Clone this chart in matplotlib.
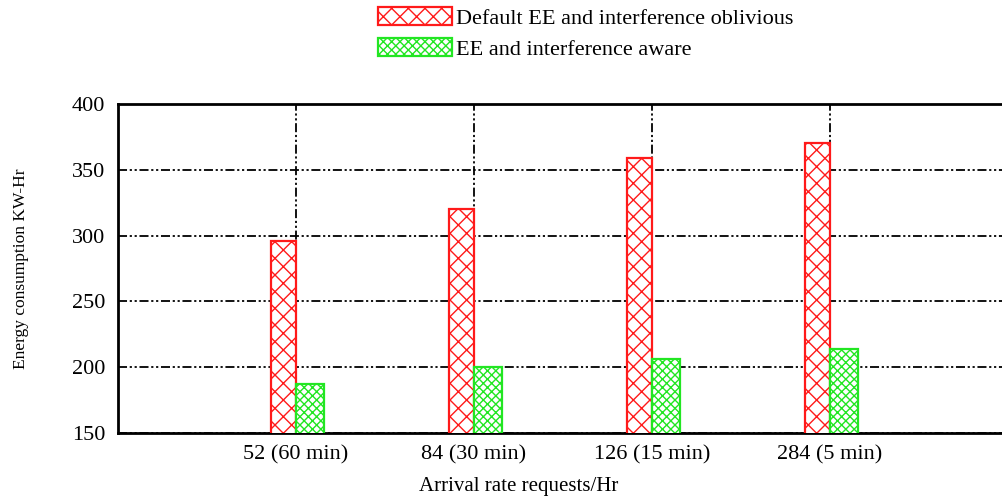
import numpy as np
import matplotlib.pyplot as plt

plt.rcParams['font.family'] = ['Liberation Serif', 'DejaVu Serif']
plt.rcParams['hatch.linewidth'] = 1.0

categories = ['52 (60 min)', '84 (30 min)', '126 (15 min)', '284 (5 min)']
oblivious = [296, 320, 359, 370]
aware = [187, 200, 206, 214]
yticks = [150, 200, 250, 300, 350, 400]

fig = plt.figure(figsize=(10.02, 5.0), dpi=100)
ax = fig.add_axes([118 / 1002, 67 / 500, 890 / 1002, 329 / 500])

x = np.arange(1, len(categories) + 1)
w = 0.14
ax.bar(x - w / 2, oblivious, w, facecolor='white', edgecolor='#ff1a1a',
       hatch='xx', linewidth=1.6, label='Default EE and interference oblivious', zorder=3)
ax.bar(x + w / 2 + 0.01, aware, w + 0.02, facecolor='white', edgecolor='#22e622',
       hatch='xxxx', linewidth=1.6, label='EE and interference aware', zorder=3)

ax.set_xlim(0, 5)
ax.set_ylim(150, 400)
ax.set_xticks(x)
ax.set_xticklabels(categories, fontsize=16)
ax.set_yticks(yticks)
ax.tick_params(axis='y', labelsize=16, length=0, pad=9)
ax.tick_params(axis='x', length=0, pad=9)

gridstyle = (0, (5, 1.5, 1.2, 1.5, 1.2, 1.5))
ax.grid(True, color='black', linestyle=gridstyle, linewidth=1.3, zorder=1)

for s in ax.spines.values():
    s.set_linewidth(2)

ax.set_xlabel('Arrival rate requests/Hr', fontsize=15)
ax.xaxis.set_label_coords(0.45, -0.134)
ax.set_ylabel('Energy consumption KW-Hr', fontsize=12.5)
ax.yaxis.set_label_coords(-0.1, 0.5)

fig.legend(loc='upper left', bbox_to_anchor=(365 / 1002, 1.012), frameon=False,
           fontsize=16, handlelength=3.3, handleheight=0.85, handletextpad=0.2,
           labelspacing=0.42, borderaxespad=0.2)

fig.savefig('out.png', dpi=100)
